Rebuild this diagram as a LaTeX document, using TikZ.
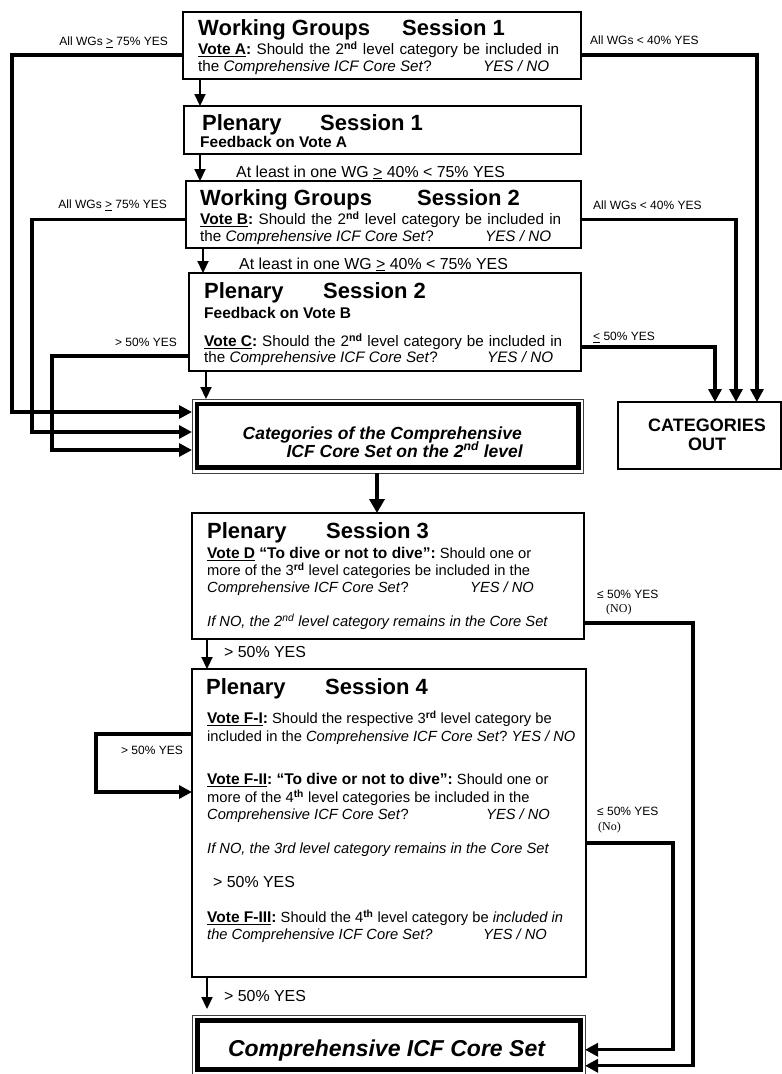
\documentclass[tikz,border=0pt]{standalone}
\usepackage{fontspec}
\setmainfont{Liberation Sans}
\newfontfamily\smallserif{Liberation Serif}
\usetikzlibrary{arrows.meta}

% bold pieces of the body text are set a little larger than the regular text
\newcommand\boldsize{\fontsize{15.5}{17}\selectfont\bfseries}
\newcommand\votelabel[1]{{\boldsize\underline{#1}}}
\newcommand\bpart[1]{{\boldsize #1}}
\newcommand\supb[1]{\textsuperscript{\textbf{#1}}}

\begin{document}
\frenchspacing
\begin{tikzpicture}[x=1pt, y=-1pt, line join=miter,
  box/.style={draw, line width=2pt, anchor=north west, inner sep=0pt, outer sep=0pt},
  frameout/.style={draw=black!75, line width=0.8pt, anchor=north west, inner sep=0pt, outer sep=0pt},
  framein/.style={draw, line width=4.5pt, anchor=north west, inner sep=0pt, outer sep=0pt},
  ttl/.style={anchor=base west, inner sep=0pt, font=\fontsize{22}{24}\selectfont\bfseries},
  tx/.style={anchor=base west, inner sep=0pt, font=\fontsize{14.7}{17}\selectfont},
  txu/.style={anchor=base west, inner sep=0pt, font=\fontsize{15.2}{17}\selectfont},
  lbl/.style={inner sep=0pt, font=\fontsize{12}{14}\selectfont},
  cond/.style={anchor=base west, inner sep=0pt, font=\fontsize{15.9}{18}\selectfont},
  conn/.style={line width=3.2pt, -{Triangle[length=13pt,width=13pt]}},
  flow/.style={line width=2.2pt, -{Triangle[length=12pt,width=11pt]}},
  bigflow/.style={line width=4pt, -{Triangle[length=14pt,width=15pt]}}]

\useasboundingbox (0,0) rectangle (782,1074);

% ---------- boxes ----------
\node[box, minimum width=398pt, minimum height=67pt] (wg1) at (183,12) {};
\node[box, minimum width=397pt, minimum height=48pt] (pl1) at (184,106) {};
\node[box, minimum width=395pt, minimum height=67pt] (wg2) at (186,181) {};
\node[box, minimum width=392pt, minimum height=98pt] (pl2) at (189,273) {};
\node[frameout, minimum width=391pt, minimum height=74pt] (cat2o) at (192,399) {};
\node[framein, minimum width=381.5pt, minimum height=63.5pt] (cat2) at (197,404) {};
\node[box, minimum width=163pt, minimum height=67pt] (out) at (618,402) {};
\node[box, minimum width=392pt, minimum height=126pt] (pl3) at (192,513) {};
\node[box, minimum width=394pt, minimum height=308pt] (pl4) at (192,669) {};
\node[frameout, minimum width=393pt, minimum height=59.5pt] (coreo) at (192,1015) {};
\node[framein, line width=5pt, minimum width=382.5pt, minimum height=49pt] (core) at (197.5,1020.5) {};

% ---------- working groups, session 1 ----------
\node[ttl] (t1) at (198,35.5) {\makebox[204pt][l]{Working Groups}Session 1};
\node[txu] (t1a) at (198,54.5) {\makebox[361pt][s]{\votelabel{Vote A}\bpart{:} Should the 2\supb{nd} level category be included in}};
\node[txu] (t1b) at (198,71.5) {\makebox[285pt][l]{the \textit{Comprehensive ICF Core Set}?}\textit{YES / NO}};

% ---------- plenary, session 1 ----------
\node[ttl] (t2) at (202,130) {\makebox[118pt][l]{Plenary}Session 1};
\node[tx, font=\boldsize] (t2a) at (200,147.5) {Feedback on Vote A};

\node[cond] (m1) at (236,177) {At least in one WG \underline{>} 40\% < 75\% YES};

% ---------- working groups, session 2 ----------
\node[ttl] (t3) at (200,205) {\makebox[217pt][l]{Working Groups}Session 2};
\node[txu] (t3a) at (200,224.5) {\makebox[361pt][s]{\votelabel{Vote B}\bpart{:} Should the 2\supb{nd} level category be included in}};
\node[txu] (t3b) at (200,241.5) {\makebox[285pt][l]{the \textit{Comprehensive ICF Core Set}?}\textit{YES / NO}};

\node[cond] (m2) at (239,269) {At least in one WG \underline{>} 40\% < 75\% YES};

% ---------- plenary, session 2 ----------
\node[ttl] (t4) at (204,298.5) {\makebox[119pt][l]{Plenary}Session 2};
\node[tx, font=\boldsize] (t4a) at (204,318.5) {Feedback on Vote B};
\node[txu] (t4b) at (204,346.5) {\makebox[358pt][s]{\votelabel{Vote C}\bpart{:} Should the 2\supb{nd} level category be included in}};
\node[txu] (t4c) at (204,362.5) {\makebox[283pt][l]{the \textit{Comprehensive ICF Core Set}?}\textit{YES / NO}};

% ---------- second level result boxes ----------
\node[anchor=base east, inner sep=0pt, font=\fontsize{17.5}{19}\selectfont\bfseries\itshape] (c2a) at (522,439) {Categories of the Comprehensive};
\node[anchor=base east, inner sep=0pt, font=\fontsize{17.5}{19}\selectfont\bfseries\itshape] (c2b) at (523,457) {ICF Core Set on the 2\textsuperscript{nd} level};

\node[anchor=base, inner sep=0pt, font=\fontsize{18}{20}\selectfont\bfseries] (o1) at (707,431.5) {CATEGORIES};
\node[anchor=base, inner sep=0pt, font=\fontsize{18}{20}\selectfont\bfseries] (o2) at (707,450.5) {OUT};

% ---------- plenary, session 3 ----------
\node[ttl] (t5) at (207,538) {\makebox[119pt][l]{Plenary}Session 3};
\node[tx] (t5a) at (207,558.5) {\votelabel{Vote D}\bpart{ “To dive or not to dive”:} Should one or};
\node[tx] (t5b) at (207,575.5) {more of the 3\supb{rd} level categories be included in the};
\node[tx] (t5c) at (207,592.5) {\makebox[263pt][l]{\textit{Comprehensive ICF Core Set}?}\textit{YES / NO}};
\node[tx] (t5d) at (207,626.5) {\textit{If NO, the 2\textsuperscript{nd} level category remains in the Core Set}};

\node[cond] (m3) at (224,657.5) {> 50\% YES};

% ---------- plenary, session 4 ----------
\node[ttl] (t6) at (206,694.5) {\makebox[119pt][l]{Plenary}Session 4};
\node[tx] (t6a) at (207,723.5) {\votelabel{Vote F-I}\bpart{:} Should the respective 3\supb{rd} level category be};
\node[tx] (t6b) at (207,741.5) {included in the \textit{Comprehensive ICF Core Set}? \textit{YES / NO}};
\node[tx] (t6c) at (207,784.5) {\votelabel{Vote F-II}\bpart{: “To dive or not to dive”:} Should one or};
\node[tx] (t6d) at (207,802.5) {more of the 4\supb{th} level categories be included in the};
\node[tx] (t6e) at (207,819.5) {\makebox[279pt][l]{\textit{Comprehensive ICF Core Set}?}\textit{YES / NO}};
\node[tx] (t6f) at (207,853.5) {\textit{If NO, the 3rd level category remains in the Core Set}};
\node[cond] (t6g) at (213,887.5) {> 50\% YES};
\node[tx] (t6h) at (207,922.5) {\votelabel{Vote F-III}\bpart{:} Should the 4\supb{th} level category be \textit{included in}};
\node[tx] (t6i) at (207,939.5) {\makebox[276pt][l]{\textit{the Comprehensive ICF Core Set?}}\textit{YES / NO}};

\node[cond] (m4) at (224,1001.5) {> 50\% YES};

\node[anchor=base, inner sep=0pt, font=\fontsize{23}{25}\selectfont\bfseries\itshape] (ct) at (386.5,1056) {Comprehensive ICF Core Set};

% ---------- connector labels ----------
\node[lbl, anchor=base east] (l1) at (168,45.5) {All WGs \underline{>} 75\% YES};
\node[lbl, anchor=base west] (r1) at (590,44.5) {All WGs < 40\% YES};
\node[lbl, anchor=base east] (l2) at (167,208.5) {All WGs \underline{>} 75\% YES};
\node[lbl, anchor=base west] (r2) at (593,209.5) {All WGs < 40\% YES};
\node[lbl, anchor=base east] (l3) at (177,346.5) {> 50\% YES};
\node[lbl, anchor=base west] (r3) at (593,340.5) {\underline{<} 50\% YES};
\node[lbl, anchor=base west] (r4) at (597,598.5) {≤ 50\% YES};
\node[lbl, anchor=base west, font=\fontsize{12}{14}\selectfont\smallserif] (r4n) at (606,612.5) {(NO)};
\node[lbl, anchor=base west] (r5) at (597,815.5) {≤ 50\% YES};
\node[lbl, anchor=base west, font=\fontsize{12}{14}\selectfont\smallserif] (r5n) at (598,830.5) {(No)};
\node[lbl, anchor=base east] (lp) at (183,754.5) {> 50\% YES};

% ---------- straight flow between sessions ----------
\draw[flow] ([xshift=17pt]wg1.south west) -- ([xshift=16pt]pl1.north west);
\draw[flow] ([xshift=16pt]pl1.south west) -- ([xshift=14pt]wg2.north west);
\draw[flow] ([xshift=17pt]wg2.south west) -- ([xshift=14pt]pl2.north west);
\draw[flow] ([xshift=17pt]pl2.south west) -- ([xshift=14pt]cat2o.north west);
\draw[bigflow] ([xshift=185pt]cat2o.south west) -- ([xshift=185pt]pl3.north west);
\draw[flow] ([xshift=15pt]pl3.south west) -- ([xshift=15pt]pl4.north west);
\draw[flow] ([xshift=15pt]pl4.south west) -- ([xshift=15pt,yshift=6pt]coreo.north west);

% ---------- accepted categories (left) ----------
\draw[conn] ([yshift=-9.5pt]wg1.west) -- ++(-171,0) |- ([yshift=24pt]cat2o.west);
\draw[conn] ([yshift=-5pt]wg2.west) -- ++(-154,0) |- ([yshift=4pt]cat2o.west);
\draw[conn] ([yshift=-34pt]pl2.west) -- ++(-137,0) |- ([yshift=-14pt]cat2o.west);

% ---------- rejected categories (right) ----------
\draw[conn] ([yshift=-9.5pt]wg1.east) -| ([xshift=57.5pt]out.north);
\draw[conn] ([yshift=-5pt]wg2.east) -| ([xshift=36.5pt]out.north);
\draw[conn] ([yshift=-25pt]pl2.east) -| ([xshift=15.5pt]out.north);

% ---------- session 4 loop and returns to the core set ----------
\draw[conn] ([yshift=89pt]pl4.west) -- ++(-96,0) |- ([yshift=31pt]pl4.west);
\draw[conn] ([yshift=-47pt]pl3.east) -- ++(109,0) |- ([yshift=-21pt]coreo.east);
\draw[conn] ([yshift=-20pt]pl4.east) -- ++(87,0) |- ([yshift=-5pt]coreo.east);

\end{tikzpicture}
\end{document}
